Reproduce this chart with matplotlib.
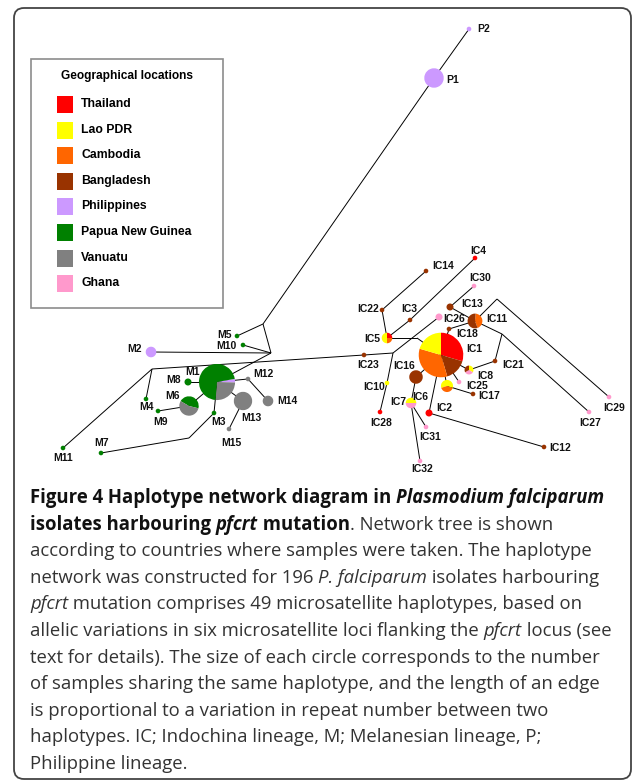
import matplotlib
matplotlib.use("Agg")
import matplotlib.pyplot as plt
from matplotlib.patches import Wedge, Rectangle, FancyBboxPatch

# countries and their colours (legend order)
countries = ["Thailand", "Lao PDR", "Cambodia", "Bangladesh",
             "Philippines", "Papua New Guinea", "Vanuatu", "Ghana"]
colors = ["#ff0000", "#ffff00", "#ff6600", "#993300",
          "#cc99ff", "#008000", "#808080", "#ff99cc"]

# haplotype sample counts, listed clockwise as the slices appear
haplo_counts = {
    "P1": [("Philippines", 11)],
    "P2": [("Philippines", 1)],
    "M1": [("Philippines", 1), ("Vanuatu", 8), ("Papua New Guinea", 22)],
    "M2": [("Philippines", 4)],
    "M3": [("Papua New Guinea", 1)],
    "M4": [("Papua New Guinea", 1)],
    "M5": [("Papua New Guinea", 1)],
    "M6": [("Papua New Guinea", 5), ("Vanuatu", 6)],
    "M7": [("Papua New Guinea", 1)],
    "M8": [("Papua New Guinea", 2)],
    "M9": [("Papua New Guinea", 1)],
    "M10": [("Papua New Guinea", 1)],
    "M11": [("Papua New Guinea", 1)],
    "M12": [("Vanuatu", 1)],
    "M13": [("Vanuatu", 10)],
    "M14": [("Vanuatu", 4)],
    "M15": [("Vanuatu", 1)],
    "IC1": [("Thailand", 13), ("Bangladesh", 7), ("Cambodia", 15), ("Lao PDR", 9)],
    "IC2": [("Thailand", 2)],
    "IC3": [("Bangladesh", 1)],
    "IC4": [("Thailand", 1)],
    "IC5": [("Thailand", 1), ("Cambodia", 1), ("Lao PDR", 2)],
    "IC6": [("Lao PDR", 3), ("Cambodia", 2)],
    "IC7": [("Lao PDR", 2), ("Ghana", 2)],
    "IC8": [("Lao PDR", 1), ("Ghana", 1), ("Bangladesh", 1)],
    "IC10": [("Lao PDR", 1)],
    "IC11": [("Cambodia", 3), ("Bangladesh", 4)],
    "IC12": [("Bangladesh", 1)],
    "IC13": [("Bangladesh", 2)],
    "IC14": [("Bangladesh", 1)],
    "IC16": [("Bangladesh", 6)],
    "IC17": [("Bangladesh", 1)],
    "IC18": [("Bangladesh", 1)],
    "IC21": [("Bangladesh", 1)],
    "IC22": [("Bangladesh", 1)],
    "IC23": [("Bangladesh", 1)],
    "IC25": [("Ghana", 1)],
    "IC26": [("Ghana", 2)],
    "IC27": [("Ghana", 1)],
    "IC28": [("Thailand", 1)],
    "IC29": [("Ghana", 1)],
    "IC30": [("Ghana", 1)],
    "IC31": [("Ghana", 1)],
    "IC32": [("Ghana", 1)],
}

# network layout (pixel positions of the drawing)
node_pos = {
    "P1": (434, 78), "P2": (469, 29),
    "M1": (217, 382), "M2": (151, 352), "M3": (214, 413), "M4": (146, 399),
    "M5": (237, 336), "M6": (189, 406), "M7": (101, 453), "M8": (188, 382),
    "M9": (158, 411), "M10": (243, 345), "M11": (63, 448), "M12": (248, 379),
    "M13": (243, 401), "M14": (268, 401), "M15": (229, 429),
    "IC1": (441, 355), "IC2": (429, 413), "IC3": (410, 320), "IC4": (475, 258),
    "IC5": (387, 338), "IC6": (447, 386), "IC7": (411, 403), "IC8": (469, 370),
    "IC10": (387, 383), "IC11": (475, 321), "IC12": (544, 447), "IC13": (450, 307),
    "IC14": (426, 271), "IC16": (416, 377), "IC17": (473, 394), "IC18": (449, 329),
    "IC21": (495, 361), "IC22": (382, 310), "IC23": (364, 355), "IC25": (459, 382),
    "IC26": (439, 317), "IC27": (589, 412), "IC28": (380, 412), "IC29": (609, 397),
    "IC30": (474, 286), "IC31": (426, 427), "IC32": (420, 461),
    "J1": (263, 324), "J2": (271, 353), "J3": (152, 369), "J4": (393, 353),
    "J5": (189, 438), "J6": (502, 334), "J7": (417, 338), "J8": (497, 299),
}

edges = [
    ("P2", "P1"), ("P1", "J1"), ("J1", "M5"), ("J1", "J2"), ("J2", "M10"),
    ("J2", "M2"), ("J2", "M1"), ("J3", "M4"), ("J3", "M11"), ("J3", "IC23"),
    ("IC23", "J4"), ("M1", "M8"), ("M1", "M6"), ("M6", "M9"), ("M1", "M3"),
    ("M3", "J5"), ("J5", "M7"), ("M1", "M12"), ("M12", "M14"), ("M1", "M13"),
    ("M13", "M15"),
    ("IC5", "IC22"), ("IC22", "IC14"), ("IC5", "IC3"), ("IC3", "IC4"),
    ("IC5", "J7"), ("J7", "IC1"), ("J4", "IC26"), ("J4", "IC10"),
    ("IC10", "IC28"), ("IC18", "IC11"), ("IC13", "IC30"), ("IC13", "IC11"),
    ("IC11", "J6"), ("J6", "IC27"), ("J6", "IC21"), ("IC21", "IC8"),
    ("IC11", "J8"), ("J8", "IC29"), ("IC1", "IC16"), ("IC1", "IC2"),
    ("IC2", "IC12"), ("IC16", "IC7"), ("IC7", "IC31"), ("IC7", "IC32"),
    ("IC1", "IC6"), ("IC6", "IC17"), ("IC1", "IC25"), ("IC1", "IC8"),
    ("IC1", "IC18"),
]

label_pos = {
    "P1": (453, 80), "P2": (484, 29),
    "M1": (192, 372), "M2": (135, 349), "M3": (218, 422), "M4": (146, 407),
    "M5": (224, 335), "M6": (172, 396), "M7": (102, 443), "M8": (174, 380),
    "M9": (161, 422), "M10": (226, 346), "M11": (63, 458), "M12": (263, 374),
    "M13": (251, 418), "M14": (287, 401), "M15": (231, 443),
    "IC1": (474, 349), "IC2": (444, 408), "IC3": (409, 309), "IC4": (478, 251),
    "IC5": (372, 339), "IC6": (420, 397), "IC7": (398, 402), "IC8": (485, 376),
    "IC10": (374, 387), "IC11": (497, 319), "IC12": (560, 448), "IC13": (472, 304),
    "IC14": (443, 266), "IC16": (404, 366), "IC17": (489, 396), "IC18": (467, 334),
    "IC21": (513, 365), "IC22": (368, 309), "IC23": (368, 365), "IC25": (477, 386),
    "IC26": (454, 319), "IC27": (590, 423), "IC28": (381, 423), "IC29": (614, 408),
    "IC30": (480, 278), "IC31": (430, 437), "IC32": (422, 469),
}

# start angle (degrees, screen orientation) of the first slice
pie_start = {"M1": 10, "M6": 150, "IC6": 198, "IC7": 180, "IC11": 85}

caption = [
    [("Figure 4 Haplotype network diagram in ", "bold", "normal"),
     ("Plasmodium falciparum", "bold", "italic")],
    [("isolates harbouring ", "bold", "normal"), ("pfcrt", "bold", "italic"),
     (" mutation", "bold", "normal"), (". Network tree is shown", "normal", "normal")],
    [("according to countries where samples were taken. The haplotype", "normal", "normal")],
    [("network was constructed for 196 ", "normal", "normal"),
     ("P. falciparum", "normal", "italic"), (" isolates harbouring", "normal", "normal")],
    [("pfcrt", "normal", "italic"),
     (" mutation comprises 49 microsatellite haplotypes, based on", "normal", "normal")],
    [("allelic variations in six microsatellite loci flanking the ", "normal", "normal"),
     ("pfcrt", "normal", "italic"), (" locus (see", "normal", "normal")],
    [("text for details). The size of each circle corresponds to the number", "normal", "normal")],
    [("of samples sharing the same haplotype, and the length of an edge", "normal", "normal")],
    [("is proportional to a variation in repeat number between two", "normal", "normal")],
    [("haplotypes. IC; Indochina lineage, M; Melanesian lineage, P;", "normal", "normal")],
    [("Philippine lineage.", "normal", "normal")],
]

W, H = 636, 784
fig = plt.figure(figsize=(W / 100, H / 100), dpi=100)
ax = fig.add_axes([0, 0, 1, 1])
ax.set_xlim(0, W)
ax.set_ylim(H, 0)
ax.axis("off")

color_of = dict(zip(countries, colors))


def radius(n):
    return 2.3 * n ** 0.6


# outer frame
ax.add_patch(FancyBboxPatch((14, 8), 617, 771, boxstyle="round,pad=0,rounding_size=10",
                            fc="white", ec="#444444", lw=1.3, zorder=0))

# edges
for a, b in edges:
    (x1, y1), (x2, y2) = node_pos[a], node_pos[b]
    ax.plot([x1, x2], [y1, y2], color="black", lw=0.7, zorder=1,
            solid_capstyle="butt")

# pie nodes
for name, parts in haplo_counts.items():
    cx, cy = node_pos[name]
    total = sum(n for _, n in parts)
    r = radius(total)
    a = pie_start.get(name, 90)
    for country, n in parts:
        span = 360.0 * n / total
        ax.add_patch(Wedge((cx, cy), r, -a, -a + span, fc=color_of[country],
                           ec="none", lw=0, zorder=3))
        a -= span

for name, (lx, ly) in label_pos.items():
    ax.text(lx, ly, name, ha="center", va="center", fontsize=7.5,
            fontweight="bold", family="Liberation Sans", color="#111111", zorder=5)

# legend box
ax.add_patch(Rectangle((31, 59), 192, 249, fc="white", ec="#8c8c8c", lw=1.2, zorder=4))
ax.text(127, 76, "Geographical locations", ha="center", va="center", fontsize=8.6,
        fontweight="bold", family="Liberation Sans", zorder=5)
for i, (country, c) in enumerate(zip(countries, colors)):
    y = 104 + 25.6 * i
    ax.add_patch(Rectangle((57, y - 8), 16, 17, fc=c, ec="none", zorder=5))
    ax.text(81, y, country, ha="left", va="center", fontsize=8.8,
            fontweight="bold", family="Liberation Sans", zorder=5)

# caption, drawn segment by segment
renderer = fig.canvas.get_renderer()
cap_size = 13.35


def seg_width(s, weight, style):
    t1 = ax.text(0, 0, s + "|", fontsize=cap_size, fontweight=weight, fontstyle=style,
                 family="Open Sans")
    t2 = ax.text(0, 0, "|", fontsize=cap_size, fontweight=weight, fontstyle=style,
                 family="Open Sans")
    w = t1.get_window_extent(renderer).width - t2.get_window_extent(renderer).width
    t1.remove()
    t2.remove()
    return w


for i, line in enumerate(caption):
    y = 498 + 26.6 * i
    x = 30
    for s, weight, style in line:
        col = "#111111" if weight == "bold" else "#333333"
        ax.text(x, y, s, ha="left", va="center", fontsize=cap_size, fontweight=weight,
                fontstyle=style, family="Open Sans", color=col, zorder=5)
        x += seg_width(s, weight, style)

fig.savefig("out.png", dpi=100)
